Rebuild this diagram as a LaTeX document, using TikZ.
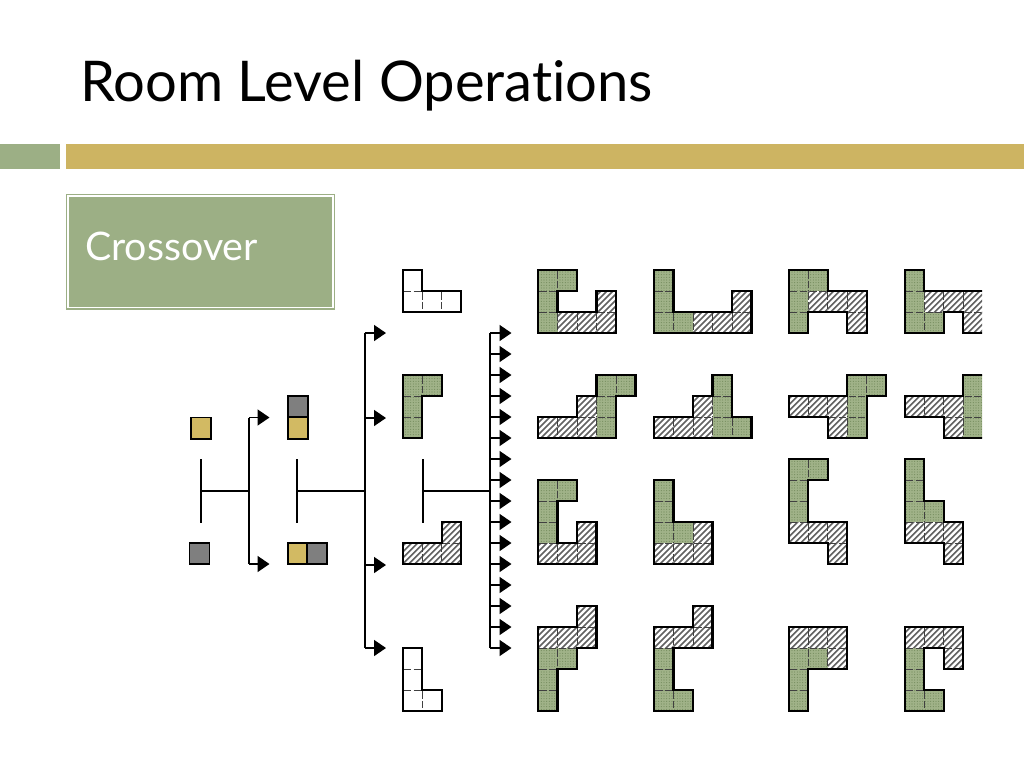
\documentclass[tikz,border=0pt]{standalone}
\usepackage{fontspec}
\setmainfont[Ligatures=NoCommon]{Lato}
\usetikzlibrary{patterns.meta,arrows.meta}
\definecolor{sagegreen}{HTML}{9CAF85}
\definecolor{barGold}{HTML}{CDB462}
\definecolor{cellGreen}{HTML}{A0B288}
\definecolor{dotGreen}{HTML}{6F8758}
\definecolor{cellGold}{HTML}{D2BA63}
\definecolor{cellGray}{HTML}{7F7F7F}
\tikzset{
  cellg/.style={preaction={fill=cellGreen},pattern={Dots[distance=2pt,radius=.4pt]},pattern color=dotGreen},
  cellw/.style={fill=white},
  hatchline/.style={draw=black!62,line width=1.2pt},
  grid/.style={draw=black!75,line width=.5pt,dash pattern=on 5.5pt off 1.6pt,dash phase=-1pt},
  outline/.style={draw=black,line width=1.7pt,line join=miter},
  tree/.style={draw=black,line width=1.2pt},
  branch/.style={draw=black,line width=1.2pt,-{Triangle[length=9pt,width=12pt]}},
  swatch/.style={draw=black,line width=1.4pt,anchor=north west,inner sep=0pt,outer sep=0pt},
}
\newcommand{\drawcellg}{\fill[cellg] (\c,\r) rectangle ++(1,1);}
\newcommand{\drawcellw}{\fill[cellw] (\c,\r) rectangle ++(1,1);}
\newcommand{\drawcellh}{%
  \begin{scope}
    \clip (\c,\r) rectangle ++(1,1);
    \fill[white] (\c,\r) rectangle ++(1,1);
    \foreach \a in {-80,-75.5,...,75} {\path[hatchline] (\a pt,-80pt) -- ++(80pt,80pt);}
  \end{scope}}
% x, y (px), cell list c/r/kind, outline path
\newcommand{\room}[4]{%
  \begin{scope}[shift={(#1,#2)},x=14.625pt,y=-15.75pt]
    \foreach \c/\r/\k in {#3} {\csname drawcell\k\endcsname}
    \foreach \c/\r/\k in {#3} {\path[grid] (\c,\r) -- ++(1,0); \path[grid] (\c,\r) -- ++(0,1);}
    \path[outline] #4;
  \end{scope}}
\begin{document}
\begin{tikzpicture}[x=.75pt,y=-.75pt]
\useasboundingbox (0,0) rectangle (1024,768);
\fill[white] (0,0) rectangle (1024,768);
% title and bars
\node[anchor=base west,inner sep=0pt,text=black,font=\fontsize{42.1}{48}\selectfont] (title) at (80,101) {Room Level Operations};
\fill[sagegreen] (0,143.5) rectangle (60,168.5);
\fill[barGold] (66,143.5) rectangle (1024,168.5);
\fill[sagegreen] (66,194) rectangle (335,309.5);
\draw[white,line width=.9pt] (68,196) rectangle (333,307.5);
\node[anchor=base west,inner sep=0pt,text=white,font=\fontsize{29.5}{34}\selectfont] (crossover) at (85,260) {Crossover};
% first tree
\node[swatch,fill=cellGold,minimum width=15pt,minimum height=16pt] (a1) at (190.7,417.5) {};
\node[swatch,fill=cellGray,minimum width=15pt,minimum height=16pt] (a2) at (189.5,543) {};
\node[swatch,fill=cellGray,minimum width=15pt,minimum height=16pt] (b1) at (287.7,396) {};
\node[swatch,fill=cellGold,minimum width=15pt,minimum height=16pt] (b2) at (287.7,417.5) {};
\node[swatch,fill=cellGold,minimum width=15pt,minimum height=16pt] (c1) at (287.7,543) {};
\node[swatch,fill=cellGray,minimum width=15pt,minimum height=16pt] (c2) at (307.2,543) {};
\coordinate (t1a) at (201,459); \coordinate (t1b) at (201,522.7); \coordinate (t1m) at (201,491); \coordinate (t1j) at (249,491);
\coordinate (t1u) at (249,417.5); \coordinate (t1d) at (249,564);
\coordinate (t1ua) at (269.5,417.5); \coordinate (t1da) at (269.5,564);
\draw[tree] (t1a) -- (t1b);
\draw[tree] (t1m) -- (t1j);
\draw[tree] (t1u) -- (t1d);
\draw[branch] (t1u) -- (t1ua);
\draw[branch] (t1d) -- (t1da);
% second tree
\coordinate (t2a) at (297,459); \coordinate (t2b) at (297,522.7); \coordinate (t2m) at (297,491); \coordinate (t2j) at (364.7,491);
\coordinate (t2u) at (364.7,333); \coordinate (t2d) at (364.7,648);
\draw[tree] (t2a) -- (t2b);
\draw[tree] (t2m) -- (t2j);
\draw[tree] (t2u) -- (t2d);
\foreach \y [count=\i] in {333,418,565,648} {
  \coordinate (s\i) at (364.7,\y);
  \coordinate (e\i) at (386,\y);
  \draw[branch] (s\i) -- (e\i);
}
% third tree
\coordinate (t3a) at (422.7,459); \coordinate (t3b) at (422.7,522.7); \coordinate (t3m) at (422.7,491); \coordinate (t3j) at (490,491);
\coordinate (t3u) at (490,333); \coordinate (t3d) at (490,648);
\draw[tree] (t3a) -- (t3b);
\draw[tree] (t3m) -- (t3j);
\draw[tree] (t3u) -- (t3d);
\foreach \n in {0,...,15} {
  \pgfmathsetmacro{\yy}{333+21*\n}
  \coordinate (p\n) at (490,\yy);
  \coordinate (q\n) at (511.5,\yy);
  \draw[branch] (p\n) -- (q\n);
}
% parents
\room{402.7}{270}{0/0/w,0/1/w,1/1/w,2/1/w}{(0,0)--(1,0)--(1,1)--(3,1)--(3,2)--(0,2)--cycle}
\room{402.7}{375}{0/0/g,1/0/g,0/1/g,0/2/g}{(0,0)--(2,0)--(2,1)--(1,1)--(1,3)--(0,3)--cycle}
\room{402.7}{522}{2/0/h,0/1/h,1/1/h,2/1/h}{(2,0)--(3,0)--(3,2)--(0,2)--(0,1)--(2,1)--cycle}
\room{402.7}{648}{0/0/w,0/1/w,0/2/w,1/2/w}{(0,0)--(1,0)--(1,2)--(2,2)--(2,3)--(0,3)--cycle}
% row 1
\room{538}{270}{0/0/g,1/0/g,0/1/g,0/2/g,1/2/h,2/2/h,3/2/h,3/1/h}{(0,0)--(2,0)--(2,1)--(1,1)--(1,2)--(3,2)--(3,1)--(4,1)--(4,3)--(0,3)--cycle}
\room{654}{270}{0/0/g,0/1/g,0/2/g,1/2/g,2/2/h,3/2/h,4/2/h,4/1/h}{(0,0)--(1,0)--(1,2)--(4,2)--(4,1)--(5,1)--(5,3)--(0,3)--cycle}
\room{788.7}{270}{0/0/g,1/0/g,0/1/g,0/2/g,1/1/h,2/1/h,3/1/h,3/2/h}{(0,0)--(2,0)--(2,1)--(4,1)--(4,3)--(3,3)--(3,2)--(1,2)--(1,3)--(0,3)--cycle}
% row 2
\room{538}{375}{3/0/g,4/0/g,2/1/h,3/1/g,0/2/h,1/2/h,2/2/h,3/2/g}{(3,0)--(5,0)--(5,1)--(4,1)--(4,3)--(0,3)--(0,2)--(2,2)--(2,1)--(3,1)--cycle}
\room{654}{375}{3/0/g,2/1/h,3/1/g,0/2/h,1/2/h,2/2/h,3/2/g,4/2/g}{(3,0)--(4,0)--(4,2)--(5,2)--(5,3)--(0,3)--(0,2)--(2,2)--(2,1)--(3,1)--cycle}
\room{788.7}{375}{3/0/g,4/0/g,0/1/h,1/1/h,2/1/h,3/1/g,2/2/h,3/2/g}{(3,0)--(5,0)--(5,1)--(4,1)--(4,3)--(2,3)--(2,2)--(0,2)--(0,1)--(3,1)--cycle}
% column 4 of rows 1-2 is cut off on the right
\begin{scope}
\clip (0,0) rectangle (982,768);
\room{904.7}{270}{0/0/g,0/1/g,0/2/g,1/2/g,1/1/h,2/1/h,3/1/h,3/2/h}{(0,0)--(1,0)--(1,1)--(4.2,1)--(4.2,3)--(3,3)--(3,2)--(2,2)--(2,3)--(0,3)--cycle}
\room{904.7}{375}{3/0/g,0/1/h,1/1/h,2/1/h,3/1/g,2/2/h,3/2/g}{(3,0)--(4.2,0)--(4.2,3)--(2,3)--(2,2)--(0,2)--(0,1)--(3,1)--cycle}
\end{scope}
% row 3
\room{538}{480}{0/0/g,1/0/g,0/1/g,0/2/g,2/2/h,0/3/h,1/3/h,2/3/h}{(0,0)--(2,0)--(2,1)--(1,1)--(1,3)--(2,3)--(2,2)--(3,2)--(3,4)--(0,4)--cycle}
\room{654}{480}{0/0/g,0/1/g,0/2/g,1/2/g,2/2/h,0/3/h,1/3/h,2/3/h}{(0,0)--(1,0)--(1,2)--(3,2)--(3,4)--(0,4)--cycle}
\room{788.7}{459}{0/0/g,1/0/g,0/1/g,0/2/g,0/3/h,1/3/h,2/3/h,2/4/h}{(0,0)--(2,0)--(2,1)--(1,1)--(1,3)--(3,3)--(3,5)--(2,5)--(2,4)--(0,4)--cycle}
\room{904.7}{459}{0/0/g,0/1/g,0/2/g,1/2/g,0/3/h,1/3/h,2/3/h,2/4/h}{(0,0)--(1,0)--(1,2)--(2,2)--(2,3)--(3,3)--(3,5)--(2,5)--(2,4)--(0,4)--cycle}
% row 4
\room{538}{606}{2/0/h,0/1/h,1/1/h,2/1/h,0/2/g,1/2/g,0/3/g,0/4/g}{(2,0)--(3,0)--(3,2)--(2,2)--(2,3)--(1,3)--(1,5)--(0,5)--(0,1)--(2,1)--cycle}
\room{654}{606}{2/0/h,0/1/h,1/1/h,2/1/h,0/2/g,0/3/g,0/4/g,1/4/g}{(2,0)--(3,0)--(3,2)--(1,2)--(1,4)--(2,4)--(2,5)--(0,5)--(0,1)--(2,1)--cycle}
\room{788.7}{627}{0/0/h,1/0/h,2/0/h,2/1/h,0/1/g,1/1/g,0/2/g,0/3/g}{(0,0)--(3,0)--(3,2)--(1,2)--(1,4)--(0,4)--cycle}
\room{904.7}{627}{0/0/h,1/0/h,2/0/h,2/1/h,0/1/g,0/2/g,0/3/g,1/3/g}{(0,0)--(3,0)--(3,2)--(2,2)--(2,1)--(1,1)--(1,3)--(2,3)--(2,4)--(0,4)--cycle}
\end{tikzpicture}
\end{document}
